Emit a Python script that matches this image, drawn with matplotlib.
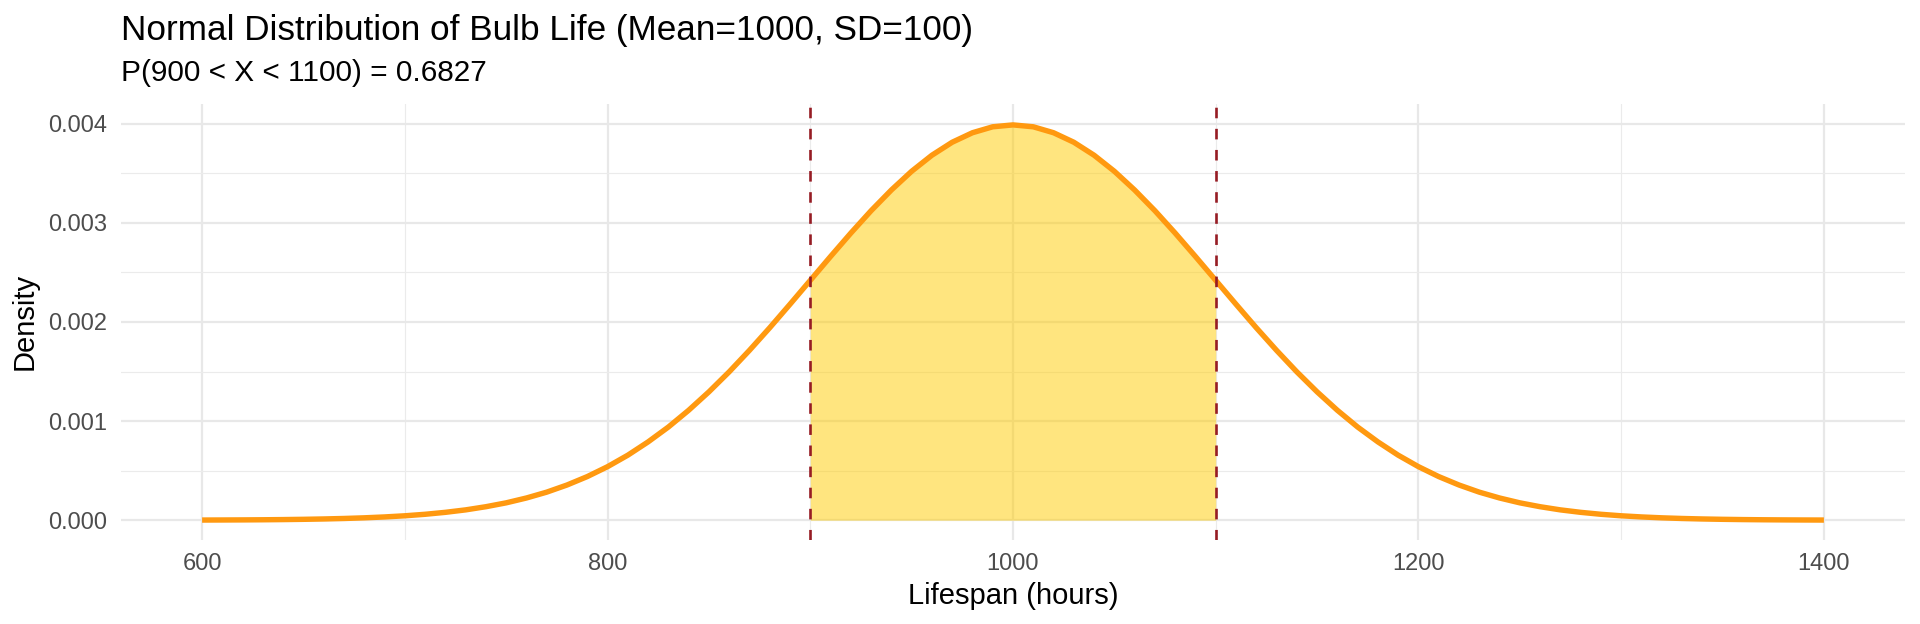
import matplotlib
matplotlib.use("Agg")
import matplotlib.pyplot as plt
from matplotlib.ticker import FixedLocator

plt.rcParams['font.family'] = ['Liberation Sans', 'DejaVu Sans']

lifespan = [600, 610, 620, 630, 640, 650, 660, 670, 680, 690,
            700, 710, 720, 730, 740, 750, 760, 770, 780, 790,
            800, 810, 820, 830, 840, 850, 860, 870, 880, 890,
            900, 910, 920, 930, 940, 950, 960, 970, 980, 990,
            1000, 1010, 1020, 1030, 1040, 1050, 1060, 1070, 1080, 1090,
            1100, 1110, 1120, 1130, 1140, 1150, 1160, 1170, 1180, 1190,
            1200, 1210, 1220, 1230, 1240, 1250, 1260, 1270, 1280, 1290,
            1300, 1310, 1320, 1330, 1340, 1350, 1360, 1370, 1380, 1390,
            1400]
density = [0.0000013, 0.0000020, 0.0000029, 0.0000042, 0.0000061,
           0.0000087, 0.0000123, 0.0000172, 0.0000238, 0.0000327,
           0.0000443, 0.0000595, 0.0000792, 0.000104, 0.000136,
           0.000175, 0.000224, 0.000283, 0.000355, 0.000440,
           0.000540, 0.000656, 0.000790, 0.000940, 0.001109,
           0.001295, 0.001497, 0.001714, 0.001942, 0.002179,
           0.002420, 0.002661, 0.002897, 0.003123, 0.003332,
           0.003521, 0.003683, 0.003814, 0.003910, 0.003970,
           0.003989,
           0.003970, 0.003910, 0.003814, 0.003683, 0.003521,
           0.003332, 0.003123, 0.002897, 0.002661, 0.002420,
           0.002179, 0.001942, 0.001714, 0.001497, 0.001295,
           0.001109, 0.000940, 0.000790, 0.000656, 0.000540,
           0.000440, 0.000355, 0.000283, 0.000224, 0.000175,
           0.000136, 0.000104, 0.0000792, 0.0000595, 0.0000443,
           0.0000327, 0.0000238, 0.0000172, 0.0000123, 0.0000087,
           0.0000061, 0.0000042, 0.0000029, 0.0000020, 0.0000013]
lower_bound = 900
upper_bound = 1100
x_ticks = [600, 800, 1000, 1200, 1400]
y_ticks = [0.000, 0.001, 0.002, 0.003, 0.004]
y_tick_labels = ["0.000", "0.001", "0.002", "0.003", "0.004"]

W, H = 1920, 624
fig = plt.figure(figsize=(W / 100, H / 100), dpi=100)
pl, pr, pt, pb = 121, 1905, 104, 540
ax = fig.add_axes([pl / W, (H - pb) / H, (pr - pl) / W, (pb - pt) / H])

shade_x = [x for x in lifespan if lower_bound <= x <= upper_bound]
shade_y = [d for x, d in zip(lifespan, density) if lower_bound <= x <= upper_bound]

ax.fill_between(shade_x, 0, shade_y, color='#FFCC00', alpha=0.5, linewidth=0, zorder=2)
ax.plot(lifespan, density, color='#FF9910', linewidth=3.9, solid_capstyle='butt',
        solid_joinstyle='round', zorder=3)
for b in (lower_bound, upper_bound):
    ax.axvline(b, color='#961C24', linewidth=1.9, linestyle=(0, (4, 4)), zorder=4)

ax.set_xlim(560, 1440)
ax.set_ylim(-0.0002, 0.0042)
ax.set_xticks(x_ticks)
ax.set_xticklabels([str(v) for v in x_ticks])
ax.set_yticks(y_ticks)
ax.set_yticklabels(y_tick_labels)
ax.xaxis.set_minor_locator(FixedLocator([700, 900, 1100, 1300]))
ax.yaxis.set_minor_locator(FixedLocator([0.0005, 0.0015, 0.0025, 0.0035]))

ax.grid(which='major', color='#E8E8E8', linewidth=1.6, zorder=0)
ax.grid(which='minor', color='#EBEBEB', linewidth=0.85, zorder=0)
ax.set_axisbelow(True)
for s in ax.spines.values():
    s.set_visible(False)
ax.tick_params(which='both', length=0)
ax.tick_params(axis='x', labelsize=17, colors='#4D4D4D', pad=9.5)
ax.tick_params(axis='y', labelsize=17, colors='#4D4D4D', pad=10)

fig.text((pl + pr) / 2 / W, 1 - 604 / H, "Lifespan (hours)", fontsize=21,
         color='black', ha='center', va='baseline')
fig.text(33 / W, 1 - 321 / H, "Density", fontsize=21, color='black',
         rotation=90, rotation_mode='anchor', ha='center', va='baseline')

fig.text(pl / W, 1 - 40 / H, "Normal Distribution of Bulb Life (Mean=1000, SD=100)",
         fontsize=25.3, color='black', ha='left', va='baseline')
fig.text(pl / W, 1 - 81 / H, "P(900 < X < 1100) = 0.6827",
         fontsize=21.4, color='black', ha='left', va='baseline')

fig.savefig("out.png", dpi=100, facecolor='white')
